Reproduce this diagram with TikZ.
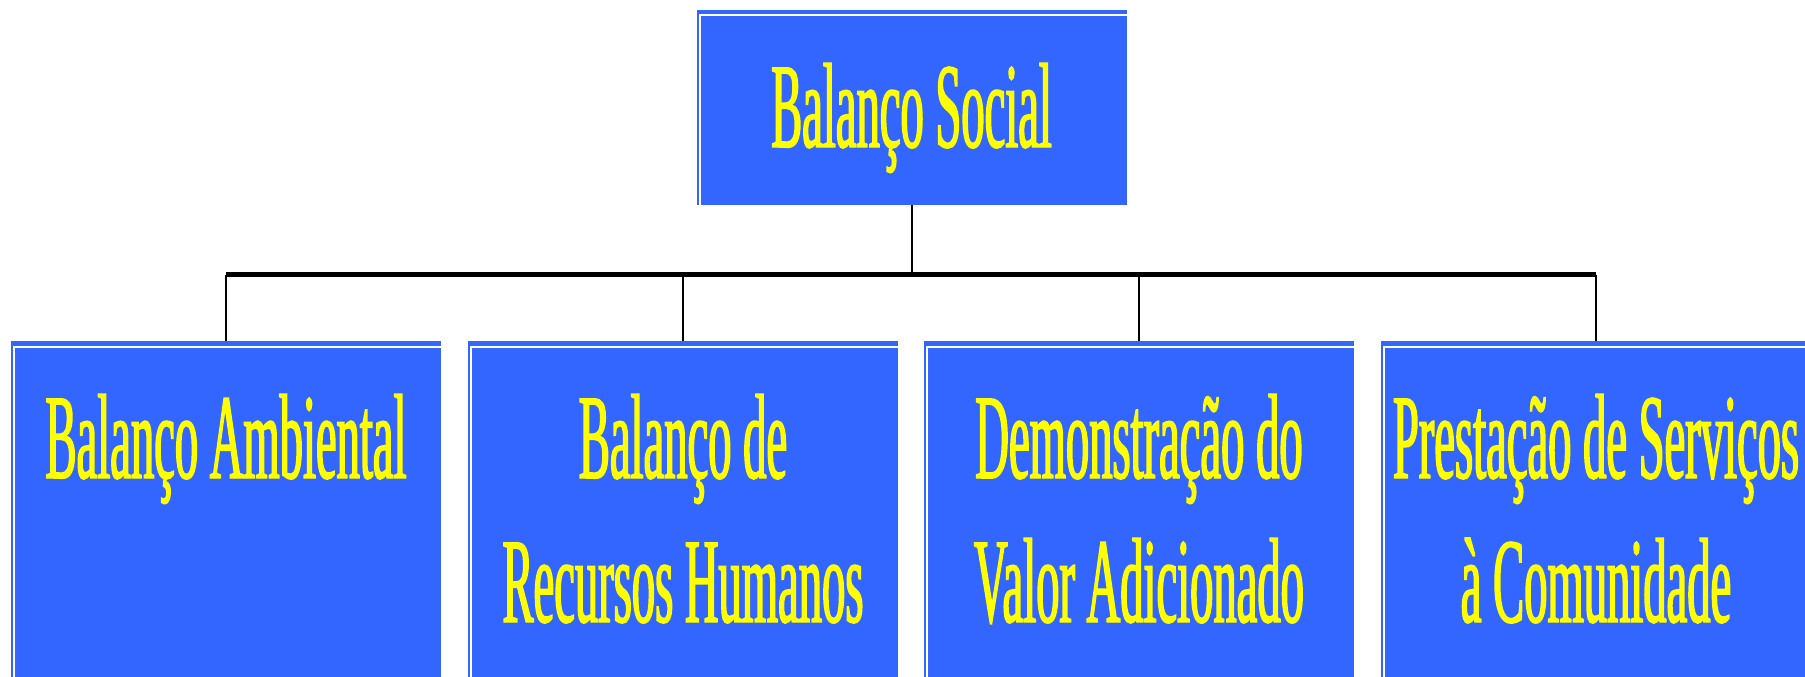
\documentclass[tikz,border=0pt]{standalone}
\usepackage{fontspec}
\newfontfamily\condserif[FakeStretch=0.385,FakeBold=1.2]{Liberation Serif}
\definecolor{boxblue}{RGB}{51,102,255}
\definecolor{txtyellow}{RGB}{255,255,0}
\begin{document}
\begin{tikzpicture}[x=1pt,y=-1pt,
  bluebox/.style={fill=boxblue, draw=none, inner sep=0pt, minimum width=430pt, anchor=north west},
  boxtext/.style={text=txtyellow, inner sep=0pt, anchor=base, align=center,
    font=\condserif\fontsize{121}{144}\selectfont},
  thinconn/.style={draw=black, line width=2pt},
  busline/.style={draw=black, line width=5pt},
  innerline/.style={draw=white, line width=2pt}]
\useasboundingbox (0,0) rectangle (1805,677);
\clip (0,0) rectangle (1805,677);
\fill[white] (0,0) rectangle (1805,677);
% boxes
\node[bluebox, minimum height=195pt] (top) at (697,10) {};
\node[bluebox, minimum height=340pt] (b1) at (11,341) {};
\node[bluebox, minimum height=340pt] (b2) at (468,341) {};
\node[bluebox, minimum height=340pt] (b3) at (924,341) {};
\node[bluebox, minimum height=340pt] (b4) at (1381,341) {};
% inner white lines
\foreach \b in {top,b1,b2,b3,b4}{
  \draw[innerline] ([xshift=3pt]\b.south west) -- ([xshift=3pt,yshift=-5.5pt]\b.north west) -- ([yshift=-5.5pt]\b.north east);
}
% texts (base anchor = baseline of last line)
\node[boxtext] (ttop) at (911.5,147) {Balanço Social};
\node[boxtext] (t1) at (226,478) {Balanço Ambiental};
\node[boxtext] (t2) at (683,622) {Balanço de\\Recursos Humanos};
\node[boxtext] (t3) at (1139,622) {Demonstração do\\Valor Adicionado};
\node[boxtext] (t4) at (1596,622) {Prestação de Serviços\\à Comunidade};
% connectors
\coordinate (bus) at (911.5,274.5);
\draw[thinconn] (top.south) -- (top.south |- bus);
\draw[busline] (b1.north |- bus) -- (b4.north |- bus);
\foreach \b in {b1,b2,b3,b4}{
  \draw[thinconn] (\b.north |- bus) -- (\b.north);
}
\end{tikzpicture}
\end{document}
